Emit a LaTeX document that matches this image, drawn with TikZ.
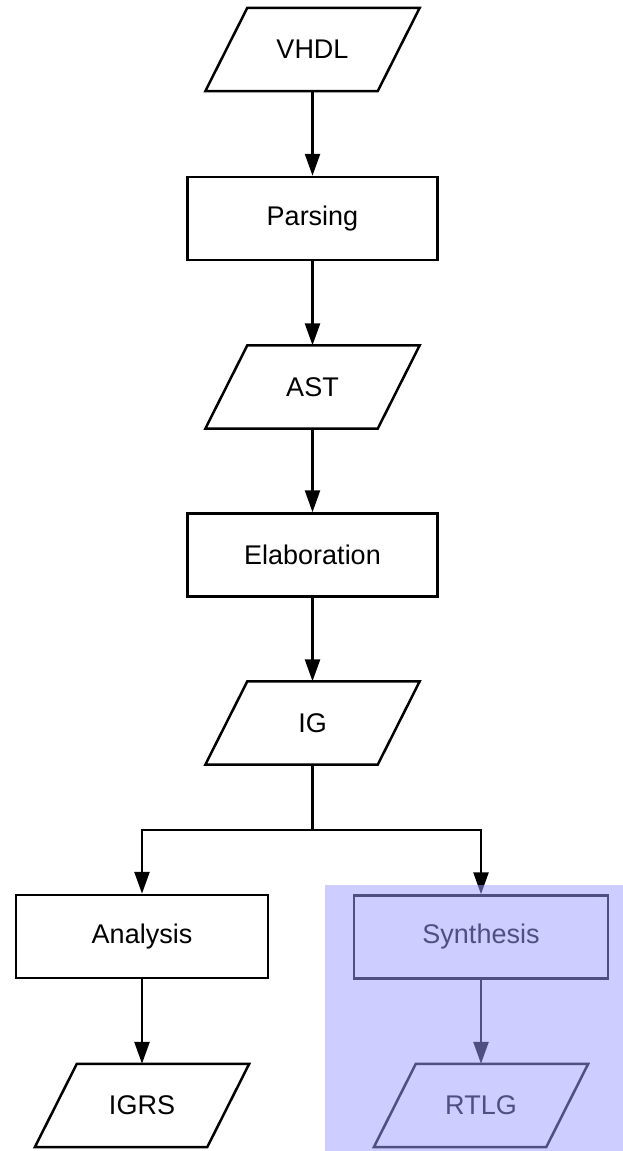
\documentclass[tikz,border=0pt]{standalone}
\usepackage{fontspec}
\setmainfont{Liberation Sans}
\usetikzlibrary{arrows.meta}
\definecolor{hilite}{RGB}{156,156,255}
% slanted outline drawn round a named data node
\newcommand\slantbox[1]{%
  \draw[line width=2.5pt,line join=miter]
    ([xshift=-21pt]#1.south west) -- ([xshift=-21pt]#1.south east)
    -- ([xshift=21pt]#1.north east) -- ([xshift=21pt]#1.north west) -- cycle;}
\begin{document}
\begin{tikzpicture}[x=1pt,y=-1pt,
  every node/.style={font=\fontsize{27}{31}\selectfont},
  proc/.style={draw,line width=2.5pt,rectangle,minimum width=250pt,minimum height=83pt,inner sep=0pt},
  data/.style={rectangle,minimum width=172pt,minimum height=83pt,inner sep=0pt},
  flow/.style={line width=2.5pt,-{Triangle[length=22pt,width=15pt]}}]
  \useasboundingbox (0,0) rectangle (623,1151);
  \node[data] (vhdl) at (312.5,49.5) {VHDL};
  \node[proc] (parse) at (312.5,218.5) {Parsing};
  \node[data] (ast) at (312.5,387) {AST};
  \node[proc] (elab) at (312.5,555) {Elaboration};
  \node[data] (ig) at (312.5,723) {IG};
  \node[proc,minimum width=252pt] (ana) at (142,936.5) {Analysis};
  \node[proc,minimum width=254pt] (syn) at (481,937) {Synthesis};
  \node[data] (igrs) at (142,1105.5) {IGRS};
  \node[data] (rtlg) at (481,1105.5) {RTLG};
  \foreach \n in {vhdl,ast,ig,igrs,rtlg} {\slantbox{\n}}
  \coordinate (split) at (ig.south |- 0,830);
  \draw[flow] (vhdl.south) -- (parse.north);
  \draw[flow] (parse.south) -- (ast.north);
  \draw[flow] (ast.south) -- (elab.north);
  \draw[flow] (elab.south) -- (ig.north);
  \draw[line width=2.5pt] (ig.south) -- (split);
  \draw[flow] (split) -| (ana.north);
  \draw[flow] (split) -| (syn.north);
  \draw[flow] (ana.south) -- (igrs.north);
  \draw[flow] (syn.south) -- (rtlg.north);
  % highlighted synthesis branch
  \fill[hilite,fill opacity=0.51] (325,885) rectangle (623,1151);
\end{tikzpicture}
\end{document}
